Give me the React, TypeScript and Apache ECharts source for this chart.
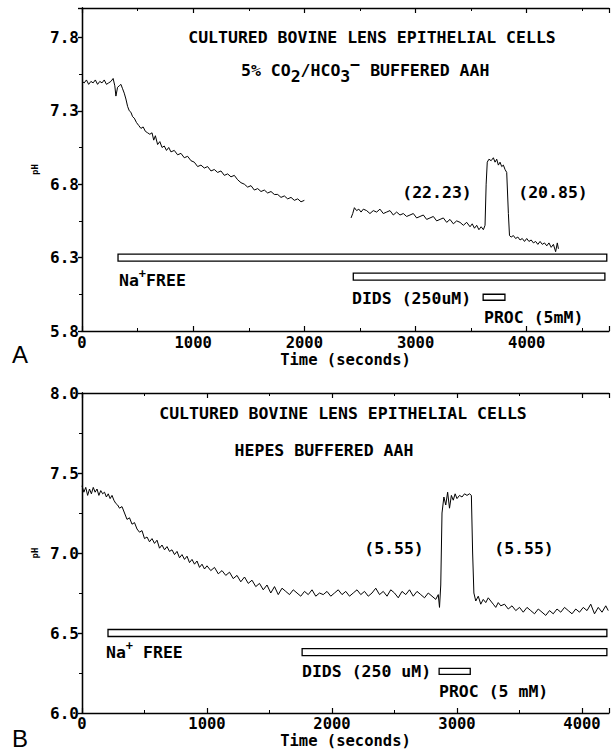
import React, { useEffect, useRef } from 'react';
import * as echarts from 'echarts';

// ---------- DATA ----------
// Panel A: 5% CO2/HCO3- buffered, time (s) vs pH
const traceA1: number[][] = [
  [0, 7.5], [20, 7.49], [40, 7.51], [60, 7.48], [80, 7.5], [100, 7.49], [120, 7.51], [140, 7.48], [160, 7.5],
  [180, 7.49], [200, 7.51], [220, 7.48], [240, 7.49], [260, 7.5], [280, 7.52], [295, 7.47], [305, 7.4],
  [320, 7.46], [335, 7.47], [350, 7.48], [365, 7.45], [380, 7.42], [395, 7.38], [410, 7.33], [425, 7.3],
  [440, 7.29], [455, 7.26], [470, 7.25], [490, 7.22], [510, 7.2], [530, 7.18], [550, 7.19], [570, 7.16],
  [590, 7.15], [610, 7.14], [630, 7.15], [645, 7.1], [660, 7.13], [680, 7.07], [700, 7.09], [720, 7.05],
  [740, 7.06], [760, 7.03], [780, 7.05], [800, 7.02], [830, 7.03], [860, 7.0], [890, 7.01], [920, 6.98],
  [950, 6.99], [980, 6.96], [1010, 6.95], [1040, 6.92], [1070, 6.93], [1100, 6.91], [1130, 6.92], [1160, 6.89],
  [1190, 6.9], [1220, 6.88], [1250, 6.89], [1280, 6.86], [1310, 6.87], [1340, 6.85], [1370, 6.86], [1400, 6.83],
  [1430, 6.81], [1460, 6.8], [1490, 6.78], [1520, 6.79], [1550, 6.76], [1580, 6.77], [1610, 6.75], [1640, 6.76],
  [1670, 6.74], [1700, 6.75], [1730, 6.73], [1760, 6.73], [1790, 6.71], [1820, 6.72], [1850, 6.7], [1880, 6.71],
  [1910, 6.69], [1940, 6.7], [1970, 6.68], [2000, 6.69],
];
const traceA2: number[][] = [
  [2420, 6.57], [2435, 6.6], [2450, 6.64], [2470, 6.62], [2490, 6.63], [2510, 6.61], [2530, 6.63], [2560, 6.62],
  [2590, 6.6], [2620, 6.62], [2650, 6.61], [2680, 6.63], [2710, 6.6], [2740, 6.61], [2770, 6.62], [2800, 6.59],
  [2830, 6.61], [2860, 6.59], [2890, 6.6], [2920, 6.58], [2950, 6.59], [2980, 6.6], [3010, 6.57], [3040, 6.58],
  [3070, 6.59], [3100, 6.56], [3130, 6.57], [3160, 6.58], [3190, 6.55], [3220, 6.56], [3250, 6.57], [3280, 6.54],
  [3310, 6.56], [3340, 6.53], [3370, 6.55], [3400, 6.54], [3430, 6.52], [3460, 6.54], [3490, 6.51], [3510, 6.53],
  [3530, 6.5], [3550, 6.52], [3570, 6.49], [3590, 6.51], [3610, 6.49], [3625, 6.52], [3635, 6.8], [3645, 6.95],
  [3660, 6.97], [3680, 6.96], [3700, 6.98], [3715, 6.95], [3730, 6.97], [3745, 6.93], [3760, 6.95], [3775, 6.92],
  [3790, 6.93], [3805, 6.9], [3820, 6.88], [3835, 6.6], [3845, 6.45], [3860, 6.44], [3880, 6.45], [3900, 6.43],
  [3920, 6.44], [3940, 6.42], [3960, 6.43], [3980, 6.41], [4000, 6.43], [4020, 6.41], [4040, 6.42], [4060, 6.4],
  [4080, 6.41], [4100, 6.39], [4120, 6.41], [4140, 6.39], [4160, 6.4], [4180, 6.38], [4200, 6.4], [4220, 6.37],
  [4240, 6.39], [4260, 6.34], [4275, 6.4], [4285, 6.36],
];
// Panel B: HEPES buffered
const traceB: number[][] = [
  [0, 7.42], [15, 7.38], [30, 7.41], [45, 7.36], [60, 7.4], [75, 7.37], [90, 7.41], [105, 7.38], [120, 7.4],
  [135, 7.36], [150, 7.39], [165, 7.37], [180, 7.38], [195, 7.35], [210, 7.37], [225, 7.34], [240, 7.36],
  [255, 7.33], [270, 7.31], [285, 7.3], [300, 7.28], [320, 7.29], [340, 7.25], [360, 7.21], [380, 7.22],
  [400, 7.18], [420, 7.19], [440, 7.15], [460, 7.13], [480, 7.14], [500, 7.09], [520, 7.1], [540, 7.07],
  [560, 7.09], [580, 7.06], [600, 7.08], [620, 7.03], [640, 7.05], [660, 7.02], [680, 7.04], [700, 7.01],
  [720, 7.02], [740, 6.99], [760, 7.01], [780, 6.97], [800, 6.99], [820, 6.96], [840, 6.98], [860, 6.94],
  [880, 6.96], [900, 6.93], [920, 6.95], [940, 6.91], [960, 6.93], [980, 6.9], [1000, 6.92], [1030, 6.89],
  [1060, 6.91], [1090, 6.87], [1120, 6.89], [1150, 6.86], [1180, 6.88], [1210, 6.84], [1240, 6.86], [1270, 6.82],
  [1300, 6.85], [1330, 6.81], [1360, 6.83], [1390, 6.79], [1420, 6.81], [1450, 6.77], [1480, 6.8], [1510, 6.75],
  [1540, 6.79], [1570, 6.74], [1600, 6.78], [1630, 6.76], [1660, 6.74], [1690, 6.77], [1720, 6.75], [1750, 6.73],
  [1780, 6.76], [1810, 6.74], [1840, 6.77], [1870, 6.73], [1900, 6.75], [1930, 6.74], [1960, 6.76], [1990, 6.73],
  [2020, 6.75], [2050, 6.77], [2080, 6.74], [2110, 6.76], [2140, 6.73], [2170, 6.75], [2200, 6.77], [2230, 6.74],
  [2260, 6.76], [2290, 6.73], [2320, 6.75], [2350, 6.78], [2380, 6.74], [2410, 6.76], [2440, 6.73], [2470, 6.77],
  [2500, 6.75], [2530, 6.72], [2560, 6.76], [2590, 6.74], [2620, 6.77], [2650, 6.73], [2680, 6.76], [2710, 6.74],
  [2740, 6.72], [2770, 6.75], [2800, 6.73], [2830, 6.71], [2850, 6.74], [2860, 6.66], [2870, 6.8], [2880, 7.25],
  [2895, 7.35], [2910, 7.3], [2925, 7.38], [2940, 7.28], [2955, 7.36], [2970, 7.33], [2985, 7.37], [3000, 7.34],
  [3020, 7.36], [3040, 7.35], [3060, 7.37], [3080, 7.36], [3100, 7.37], [3115, 7.36], [3125, 7.0], [3135, 6.75],
  [3150, 6.7], [3170, 6.73], [3190, 6.68], [3210, 6.71], [3230, 6.69], [3250, 6.72], [3270, 6.7], [3290, 6.68],
  [3310, 6.66], [3330, 6.69], [3350, 6.67], [3380, 6.68], [3410, 6.65], [3440, 6.67], [3470, 6.64], [3500, 6.66],
  [3530, 6.63], [3560, 6.66], [3590, 6.64], [3620, 6.62], [3650, 6.65], [3680, 6.63], [3710, 6.61], [3740, 6.64],
  [3770, 6.62], [3800, 6.65], [3830, 6.63], [3860, 6.66], [3890, 6.64], [3920, 6.62], [3950, 6.65], [3980, 6.63],
  [4010, 6.66], [4040, 6.64], [4070, 6.68], [4100, 6.62], [4130, 6.66], [4160, 6.63], [4190, 6.67], [4210, 6.64],
];

// treatment periods [start, end] in seconds
const naFreeA = [324, 4720];
const didsA = [2440, 4703];
const procA = [3608, 3804];
const naFreeB = [208, 4199];
const didsB = [1761, 4199];
const procB = [2857, 3106];

// axis ranges / ticks
const xRangeA = [0, 4740];
const xRangeB = [0, 4216];
const yRangeA = [5.8, 8.0];
const yRangeB = [6.0, 8.0];
const xTickStep = 1000;
const yTickStep = 0.5;

// texts
const titleLine1 = 'CULTURED BOVINE LENS EPITHELIAL CELLS';
const titleB2 = 'HEPES BUFFERED AAH';
const ratesA = ['(22.23)', '(20.85)'];
const ratesB = ['(5.55)', '(5.55)'];
const didsLabelA = 'DIDS (250uM)';
const procLabelA = 'PROC (5mM)';
const didsLabelB = 'DIDS (250 uM)';
const procLabelB = 'PROC (5 mM)';

// ---------- STYLE HELPERS ----------
const MONO = "'DejaVu Sans Mono', monospace";
const FS = 16.5;

function txt(x: number, y: number, text: string, align = 'left', fs = FS, weight = 'bold', family = MONO): any {
  return {
    type: 'text',
    x,
    y,
    silent: true,
    style: {
      text,
      fill: '#000',
      fontSize: fs,
      fontFamily: family,
      fontWeight: weight,
      align,
      verticalAlign: 'middle',
      textAlign: align,
      textVerticalAlign: 'middle',
    },
  };
}

// segments laid out left to right; each {t, dy, fs}
function seq(x0: number, y: number, segs: { t: string; dy?: number; fs?: number }[]): any[] {
  const out: any[] = [];
  let x = x0;
  for (const s of segs) {
    const fs = s.fs || FS;
    out.push(txt(x, y + (s.dy || 0), s.t, 'left', fs));
    x += s.t.length * fs * 0.602;
  }
  return out;
}

function xAxes(range: number[], gridIndex: number, nameGap: number, labelMargin: number): any[] {
  const common = {
    type: 'value',
    gridIndex,
    min: range[0],
    max: range[1],
    interval: xTickStep,
    splitLine: { show: false },
    axisLine: { show: true, lineStyle: { color: '#000', width: 1.3 } },
    axisTick: { show: true, inside: true, length: 5, lineStyle: { color: '#000', width: 1.2 } },
    minorTick: { show: true, splitNumber: 2, length: 3, lineStyle: { color: '#000', width: 1 } },
  };
  return [
    {
      ...common,
      position: 'bottom',
      name: 'Time (seconds)',
      nameLocation: 'middle',
      nameGap,
      nameTextStyle: { color: '#000', fontFamily: MONO, fontWeight: 'bold', fontSize: 15.5 },
      axisLabel: {
        color: '#000', fontFamily: MONO, fontWeight: 'bold', fontSize: 15.5, margin: labelMargin,
        showMaxLabel: false,
        formatter: (v: number) => String(v),
      },
    },
    { ...common, position: 'top', axisLabel: { show: false } },
  ];
}

function yAxes(range: number[], gridIndex: number, showMax: boolean): any[] {
  const common = {
    type: 'value',
    gridIndex,
    min: range[0],
    max: range[1],
    interval: yTickStep,
    splitLine: { show: false },
    axisLine: { show: true, lineStyle: { color: '#000', width: 1.3 } },
    minorTick: { show: true, splitNumber: 2, length: 3, lineStyle: { color: '#000', width: 1 } },
  };
  return [
    {
      ...common,
      position: 'left',
      name: 'pH',
      nameLocation: 'middle',
      nameGap: 40,
      nameTextStyle: { color: '#000', fontFamily: MONO, fontWeight: 'bold', fontSize: 9 },
      axisTick: { show: true, inside: false, length: 4, lineStyle: { color: '#000', width: 1.2 } },
      axisLabel: {
        color: '#000', fontFamily: MONO, fontWeight: 'bold', fontSize: 16, margin: 3,
        showMaxLabel: showMax,
        formatter: (v: number) => v.toFixed(1),
      },
    },
    {
      ...common,
      position: 'right',
      axisTick: { show: true, inside: true, length: 4, lineStyle: { color: '#000', width: 1.2 } },
      axisLabel: { show: false },
    },
  ];
}

function barSeries(xi: number, yi: number, items: { span: number[]; level: number; h: number }[]): any {
  return {
    type: 'custom',
    xAxisIndex: xi,
    yAxisIndex: yi,
    silent: true,
    clip: false,
    encode: { x: [0, 1], y: 2 },
    data: items.map((it) => [it.span[0], it.span[1], it.level, it.h]),
    renderItem: (params: any, api: any) => {
      const a = api.coord([api.value(0), api.value(2)]);
      const b = api.coord([api.value(1), api.value(2)]);
      const h = api.value(3);
      return {
        type: 'rect',
        shape: { x: a[0], y: a[1] - h / 2, width: b[0] - a[0], height: h },
        style: { fill: '#fff', stroke: '#000', lineWidth: 1.3 },
      };
    },
  };
}

function lineSeries(xi: number, yi: number, data: number[][]): any {
  return {
    type: 'line',
    xAxisIndex: xi,
    yAxisIndex: yi,
    data,
    showSymbol: false,
    symbol: 'none',
    silent: true,
    lineStyle: { color: '#000', width: 1 },
  };
}

export default function App() {
  const ref = useRef<HTMLDivElement>(null);
  useEffect(() => {
    document.body.style.margin = '0';
    if (!ref.current) return;
    const chart = echarts.init(ref.current, undefined, { renderer: 'svg' });

    const graphics: any[] = [
      // Panel A texts
      txt(372, 37, titleLine1, 'center'),
      ...seq(241, 70, [
        { t: '5% CO' },
        { t: '2', dy: 6 },
        { t: '/HCO' },
        { t: '3', dy: 6 },
        { t: '\u2212', dy: -6 },
        { t: ' BUFFERED AAH' },
      ]),
      txt(437, 192, ratesA[0], 'center'),
      txt(553, 192, ratesA[1], 'center'),
      ...seq(119, 280, [{ t: 'Na' }, { t: '+', dy: -6, fs: 12 }, { t: 'FREE' }]),
      txt(352, 298, didsLabelA),
      txt(484, 317, procLabelA),
      txt(20, 354, 'A', 'center', 24, 'normal', "'Liberation Sans', Arial, sans-serif"),
      // Panel B texts
      txt(343, 413, titleLine1, 'center'),
      txt(324, 450, titleB2, 'center'),
      txt(394, 548, ratesB[0], 'center'),
      txt(524, 548, ratesB[1], 'center'),
      ...seq(106, 652, [{ t: 'Na' }, { t: '+', dy: -6, fs: 12 }, { t: ' FREE' }]),
      txt(302, 671, didsLabelB),
      txt(439, 691, procLabelB),
      txt(20, 738, 'B', 'center', 24, 'normal', "'Liberation Sans', Arial, sans-serif"),
    ];

    chart.setOption({
      animation: false,
      backgroundColor: '#fff',
      grid: [
        { left: 82, top: 8, width: 527, height: 323 },
        { left: 82, top: 393, width: 527, height: 320 },
      ],
      xAxis: [...xAxes(xRangeA, 0, 20, 4), ...xAxes(xRangeB, 1, 19, 3)],
      yAxis: [...yAxes(yRangeA, 0, false), ...yAxes(yRangeB, 1, true)],
      series: [
        lineSeries(0, 0, traceA1),
        lineSeries(0, 0, traceA2),
        barSeries(0, 0, [
          { span: naFreeA, level: 6.3, h: 7 },
          { span: didsA, level: 6.17, h: 7 },
          { span: procA, level: 6.03, h: 6 },
        ]),
        lineSeries(2, 2, traceB),
        barSeries(2, 2, [
          { span: naFreeB, level: 6.5, h: 7 },
          { span: didsB, level: 6.38, h: 7 },
          { span: procB, level: 6.26, h: 6 },
        ]),
      ],
      graphic: graphics,
    });
    return () => chart.dispose();
  }, []);
  return <div ref={ref} style={{ width: 612, height: 750 }} />;
}
